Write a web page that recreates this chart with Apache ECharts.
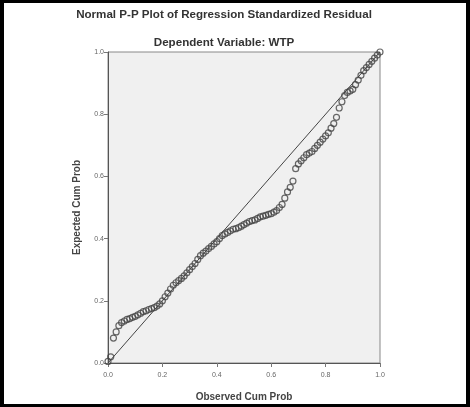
<!DOCTYPE html>
<html>
<head>
<meta charset="utf-8">
<script src="https://cdn.jsdelivr.net/npm/echarts@6/dist/echarts.min.js"></script>
<style>
  html, body { margin: 0; padding: 0; background: #fff; }
  #wrap { position: relative; width: 470px; height: 407px; }
  #chart { width: 470px; height: 407px; }
  #frame {
    position: absolute; left: 0; top: 0; width: 470px; height: 407px;
    box-sizing: border-box; border-style: solid; border-color: #000;
    border-width: 3px 4px 3px 4px; pointer-events: none;
  }
</style>
</head>
<body>
<div id="wrap">
  <div id="chart"></div>
  <div id="frame"></div>
</div>
<script>
// observed cumulative probability (x) and expected cumulative probability (y)
const observed = [
  0.00, 0.01, 0.02, 0.03, 0.04, 0.05, 0.06, 0.07, 0.08, 0.09,
  0.10, 0.11, 0.12, 0.13, 0.14, 0.15, 0.16, 0.17, 0.18, 0.19,
  0.20, 0.21, 0.22, 0.23, 0.24, 0.25, 0.26, 0.27, 0.28, 0.29,
  0.30, 0.31, 0.32, 0.33, 0.34, 0.35, 0.36, 0.37, 0.38, 0.39,
  0.40, 0.41, 0.42, 0.43, 0.44, 0.45, 0.46, 0.47, 0.48, 0.49,
  0.50, 0.51, 0.52, 0.53, 0.54, 0.55, 0.56, 0.57, 0.58, 0.59,
  0.60, 0.61, 0.62, 0.63, 0.64, 0.65, 0.66, 0.67, 0.68, 0.69,
  0.70, 0.71, 0.72, 0.73, 0.74, 0.75, 0.76, 0.77, 0.78, 0.79,
  0.80, 0.81, 0.82, 0.83, 0.84, 0.85, 0.86, 0.87, 0.88, 0.89,
  0.90, 0.91, 0.92, 0.93, 0.94, 0.95, 0.96, 0.97, 0.98, 0.99, 1.00
]
const expected = [
  0.005, 0.02, 0.08, 0.10, 0.12, 0.13, 0.135, 0.14, 0.143, 0.147,
  0.15, 0.155, 0.16, 0.165, 0.168, 0.172, 0.175, 0.178, 0.183, 0.19,
  0.20, 0.213, 0.225, 0.238, 0.25, 0.258, 0.265, 0.272, 0.28, 0.29,
  0.30, 0.31, 0.32, 0.333, 0.345, 0.353, 0.36, 0.368, 0.375, 0.383,
  0.39, 0.40, 0.41, 0.415, 0.42, 0.425, 0.43, 0.432, 0.435, 0.44,
  0.445, 0.45, 0.455, 0.458, 0.46, 0.465, 0.47, 0.472, 0.475, 0.478,
  0.48, 0.485, 0.49, 0.50, 0.51, 0.53, 0.55, 0.565, 0.585, 0.625,
  0.64, 0.65, 0.66, 0.67, 0.675, 0.68, 0.69, 0.70, 0.71, 0.72,
  0.73, 0.74, 0.755, 0.77, 0.79, 0.82, 0.84, 0.86, 0.87, 0.875,
  0.88, 0.895, 0.91, 0.925, 0.94, 0.95, 0.96, 0.97, 0.98, 0.99, 1.00
]
const refLine = [[0, 0], [1, 1]]
const tickStep = 0.2

const chart = echarts.init(document.getElementById('chart'))

const fontFamily = 'Liberation Sans, Arial, sans-serif'
const labelStyle = {
  fontFamily,
  fontSize: 7,
  color: '#666',
  formatter: (v) => v.toFixed(1),
}

chart.setOption({
  animation: false,
  title: [
    {
      text: 'Normal P-P Plot of Regression Standardized Residual',
      left: 224,
      top: 9,
      padding: 0,
      textAlign: 'center',
      textStyle: { fontFamily, fontSize: 11.6, fontWeight: 'bold', color: '#333' },
    },
    {
      text: 'Dependent Variable: WTP',
      left: 224,
      top: 37,
      padding: 0,
      textAlign: 'center',
      textStyle: { fontFamily, fontSize: 11.6, fontWeight: 'bold', color: '#333' },
    },
  ],
  grid: {
    left: 108, top: 52, width: 272, height: 312,
    show: true,
    backgroundColor: '#f0f0f0',
    borderColor: '#888',
    borderWidth: 1,
  },
  xAxis: {
    type: 'value',
    min: 0, max: 1, interval: tickStep,
    name: 'Observed Cum Prob',
    nameLocation: 'middle',
    nameGap: 29,
    nameTextStyle: { fontFamily, fontSize: 10, fontWeight: 'bold', color: '#444' },
    axisLine: { show: true, lineStyle: { color: '#555', width: 1 } },
    axisTick: { show: true, length: 4, lineStyle: { color: '#777' } },
    axisLabel: { ...labelStyle, margin: 9 },
    splitLine: { show: false },
  },
  yAxis: {
    type: 'value',
    min: 0, max: 1, interval: tickStep,
    name: 'Expected Cum Prob',
    nameLocation: 'middle',
    nameGap: 26,
    nameTextStyle: { fontFamily, fontSize: 10, fontWeight: 'bold', color: '#444' },
    axisLine: { show: true, lineStyle: { color: '#555', width: 1 } },
    axisTick: { show: true, length: 4, lineStyle: { color: '#777' } },
    axisLabel: { ...labelStyle, margin: 4 },
    splitLine: { show: false },
  },
  series: [
    {
      type: 'line',
      data: refLine,
      symbol: 'none',
      lineStyle: { color: '#444', width: 1 },
      z: 3,
    },
    {
      type: 'scatter',
      data: observed.map((x, i) => [x, expected[i]]),
      symbol: 'circle',
      symbolSize: 6,
      itemStyle: { color: 'rgba(0,0,0,0)', borderColor: '#444', borderWidth: 1.2 },
      z: 2,
    },
  ],
})
</script>
</body>
</html>
